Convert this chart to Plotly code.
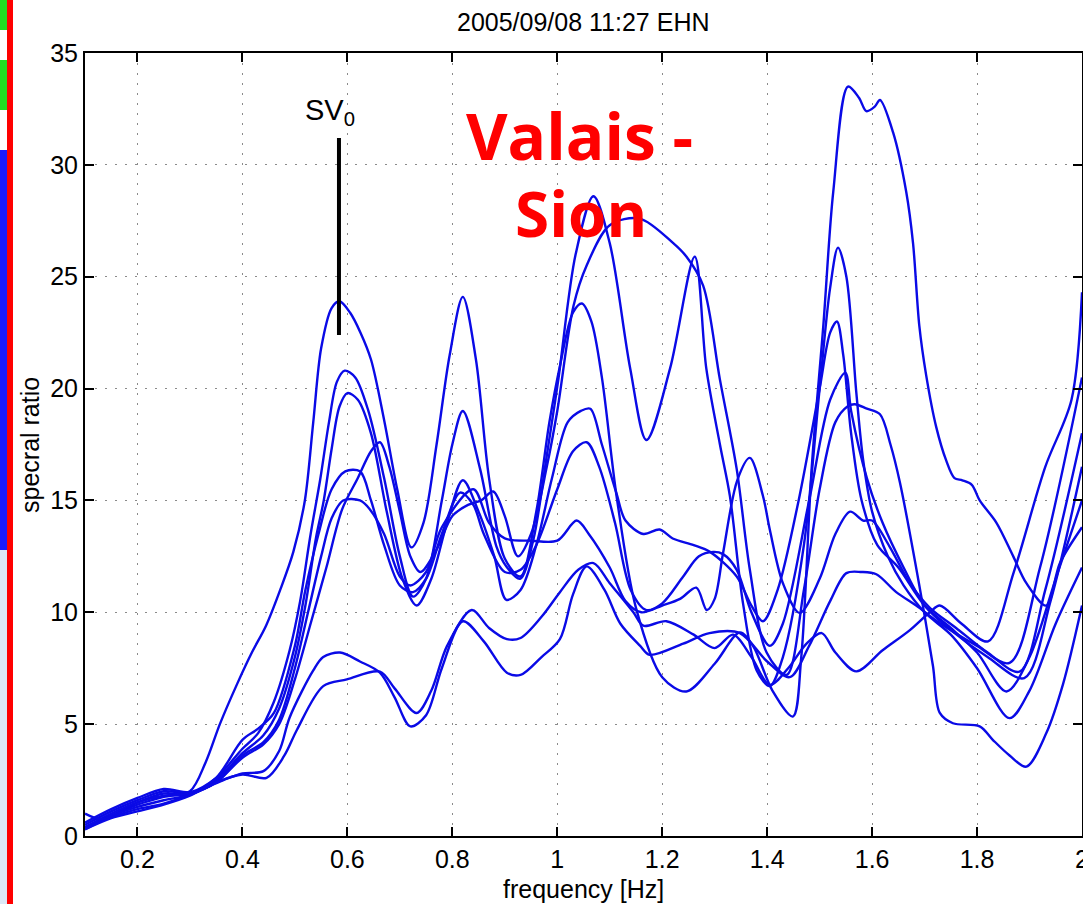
import plotly.graph_objects as go

# ---- spectral ratio curves: (frequency [Hz], spectral ratio) ----
curve_a = [(0.10, 0.4), (0.15, 0.9), (0.20, 1.4), (0.25, 1.75), (0.30, 2.0), (0.33, 3.3), (0.357, 5.0),
           (0.39, 6.8), (0.418, 8.2), (0.445, 9.4), (0.472, 11.0), (0.497, 12.7), (0.519, 15.0),
           (0.535, 18.5), (0.55, 21.8), (0.57, 23.6), (0.585, 23.9), (0.605, 23.4), (0.625, 22.5),
           (0.645, 21.3), (0.67, 18.6), (0.695, 15.5), (0.722, 12.9), (0.745, 14.0), (0.77, 17.5),
           (0.795, 21.5), (0.82, 24.1), (0.845, 21.3), (0.87, 16.0), (0.90, 12.4), (0.93, 11.6),
           (0.96, 14.5), (0.985, 18.5), (1.005, 21.0), (1.03, 23.4), (1.047, 23.8), (1.065, 23.0),
           (1.085, 20.5), (1.113, 15.2), (1.15, 10.2), (1.20, 7.1), (1.246, 6.46), (1.30, 7.7),
           (1.348, 9.1), (1.373, 8.5), (1.41, 6.5), (1.449, 5.34), (1.465, 8.0), (1.485, 16.5),
           (1.507, 22.8), (1.526, 28.8), (1.554, 33.5), (1.575, 33.0), (1.589, 32.4), (1.605, 32.6),
           (1.615, 32.9), (1.64, 31.45), (1.665, 28.8), (1.678, 26.5), (1.69, 22.8), (1.703, 20.6),
           (1.722, 18.3), (1.741, 16.8), (1.757, 16.0), (1.772, 15.9), (1.79, 15.7), (1.805, 15.0),
           (1.837, 14.0), (1.869, 12.5), (1.894, 11.3), (1.932, 10.3), (1.958, 12.2), (2.0, 13.8)]

curve_b = [(0.10, 0.5), (0.15, 1.1), (0.20, 1.6), (0.25, 2.0), (0.30, 1.95), (0.35, 2.6), (0.40, 3.9),
           (0.43, 4.6), (0.46, 6.0), (0.49, 8.3), (0.51, 10.5), (0.53, 13.5), (0.548, 15.9),
           (0.565, 18.5), (0.58, 20.3), (0.595, 20.8), (0.615, 20.5), (0.64, 19.0), (0.67, 16.0),
           (0.70, 12.5), (0.725, 10.7), (0.75, 11.5), (0.78, 15.0), (0.80, 17.5), (0.82, 19.0),
           (0.853, 16.4), (0.884, 12.95), (0.903, 12.05), (0.929, 11.5), (0.954, 13.2), (0.98, 17.0),
           (1.002, 20.4), (1.035, 26.0), (1.069, 28.6), (1.10, 26.5), (1.139, 20.9), (1.17, 17.7),
           (1.215, 20.9), (1.262, 25.9), (1.284, 20.9), (1.31, 17.5), (1.329, 15.2), (1.354, 10.4),
           (1.38, 7.4), (1.405, 6.7), (1.43, 8.0), (1.47, 13.0), (1.50, 20.0), (1.52, 24.5),
           (1.535, 26.3), (1.551, 25.0), (1.57, 19.8), (1.583, 16.8), (1.60, 14.5), (1.63, 12.5),
           (1.66, 11.2), (1.70, 10.0), (1.75, 9.0), (1.80, 7.5), (1.862, 5.27), (1.90, 6.5),
           (1.95, 9.5), (2.0, 12.0)]

curve_c = [(0.10, 0.3), (0.15, 0.9), (0.20, 1.5), (0.25, 1.9), (0.30, 1.9), (0.35, 2.5), (0.40, 3.7),
           (0.44, 4.5), (0.47, 5.7), (0.50, 8.0), (0.52, 10.3), (0.54, 13.3), (0.555, 15.0),
           (0.57, 17.3), (0.585, 19.2), (0.60, 19.8), (0.62, 19.5), (0.645, 18.0), (0.675, 14.5),
           (0.705, 11.5), (0.732, 10.3), (0.76, 11.5), (0.79, 14.0), (0.82, 15.9), (0.85, 14.5),
           (0.88, 12.5), (0.903, 10.56), (0.93, 11.0), (0.96, 13.0), (0.99, 16.0), (1.02, 18.5),
           (1.045, 19.0), (1.063, 19.1), (1.085, 17.5), (1.113, 15.3), (1.13, 14.1), (1.164, 13.5),
           (1.195, 13.7), (1.22, 13.3), (1.26, 13.0), (1.291, 12.7), (1.342, 11.6), (1.37, 10.3),
           (1.392, 9.6), (1.42, 11.0), (1.46, 15.0), (1.50, 20.0), (1.52, 22.5), (1.533, 23.0),
           (1.545, 21.5), (1.56, 18.0), (1.58, 15.0), (1.61, 13.0), (1.65, 12.0), (1.70, 10.3),
           (1.75, 9.3), (1.80, 8.2), (1.856, 6.46), (1.90, 8.0), (1.95, 11.5), (2.0, 15.0)]

curve_d = [(0.10, 0.4), (0.15, 1.0), (0.20, 1.5), (0.25, 1.8), (0.30, 1.9), (0.35, 2.6), (0.40, 4.3),
           (0.43, 4.8), (0.46, 5.5), (0.50, 8.5), (0.52, 11.0), (0.545, 13.5), (0.57, 15.5),
           (0.596, 16.3), (0.624, 16.3), (0.645, 15.0), (0.67, 13.0), (0.70, 11.2), (0.725, 10.9),
           (0.75, 11.5), (0.78, 13.5), (0.815, 15.35), (0.84, 14.8), (0.86, 13.5), (0.90, 11.8),
           (0.93, 11.9), (0.96, 13.0), (1.00, 15.5), (1.03, 17.2), (1.056, 17.6), (1.08, 16.5),
           (1.11, 14.0), (1.14, 11.0), (1.17, 10.1), (1.20, 10.4), (1.24, 11.6), (1.27, 12.5),
           (1.297, 12.7), (1.316, 12.6), (1.342, 11.9), (1.37, 10.0), (1.405, 8.5), (1.43, 9.5),
           (1.48, 15.0), (1.52, 19.5), (1.549, 20.7), (1.56, 19.0), (1.59, 16.0), (1.62, 14.0),
           (1.66, 12.0), (1.70, 10.3), (1.75, 9.2), (1.82, 8.0), (1.89, 7.06), (1.94, 10.5),
           (2.0, 16.5)]

curve_e = [(0.10, 0.6), (0.15, 1.2), (0.20, 1.7), (0.25, 2.1), (0.30, 1.95), (0.35, 2.4), (0.40, 3.6),
           (0.44, 4.2), (0.47, 5.2), (0.50, 7.5), (0.525, 10.0), (0.55, 12.5), (0.57, 14.2),
           (0.592, 15.0), (0.624, 15.0), (0.643, 14.6), (0.67, 13.5), (0.70, 11.6), (0.72, 11.2),
           (0.75, 11.8), (0.78, 13.8), (0.84, 15.5), (0.87, 14.0), (0.90, 13.3), (0.95, 13.2),
           (1.00, 13.2), (1.037, 14.1), (1.06, 13.5), (1.10, 12.0), (1.13, 10.5), (1.16, 10.0),
           (1.20, 10.3), (1.234, 10.6), (1.265, 11.1), (1.285, 10.1), (1.30, 10.6), (1.316, 12.65),
           (1.343, 15.9), (1.367, 16.9), (1.392, 15.2), (1.405, 13.7), (1.43, 11.3), (1.462, 9.97),
           (1.50, 11.5), (1.53, 13.5), (1.558, 14.5), (1.583, 14.1), (1.60, 14.1), (1.633, 12.95),
           (1.672, 11.3), (1.71, 10.2), (1.76, 9.3), (1.82, 8.2), (1.881, 7.35), (1.93, 11.0),
           (2.0, 18.0)]

curve_f = [(0.10, 0.35), (0.15, 0.9), (0.20, 1.3), (0.25, 1.6), (0.30, 1.85), (0.35, 2.4), (0.40, 3.5),
           (0.44, 4.1), (0.47, 5.0), (0.50, 7.0), (0.53, 9.5), (0.56, 12.0), (0.59, 14.6),
           (0.62, 16.0), (0.645, 17.2), (0.662, 17.6), (0.68, 16.5), (0.70, 14.5), (0.72, 12.5),
           (0.739, 11.8), (0.77, 12.8), (0.80, 14.3), (0.83, 14.8), (0.855, 15.0), (0.878, 15.4),
           (0.90, 14.3), (0.925, 12.5), (0.95, 13.5), (0.98, 16.5), (1.00, 19.0), (1.031, 23.7),
           (1.056, 25.5), (1.10, 27.3), (1.157, 27.6), (1.221, 26.5), (1.246, 25.9), (1.278, 24.6),
           (1.31, 20.4), (1.342, 16.4), (1.367, 11.9), (1.399, 8.2), (1.437, 7.2), (1.47, 11.0),
           (1.50, 15.5), (1.53, 18.5), (1.553, 19.2), (1.567, 19.3), (1.59, 19.1), (1.615, 18.85),
           (1.635, 17.5), (1.653, 15.8), (1.69, 11.2), (1.716, 7.6), (1.729, 5.5), (1.754, 5.04),
           (1.805, 4.9), (1.83, 4.3), (1.862, 3.6), (1.894, 3.1), (1.932, 4.6), (1.964, 6.8),
           (2.0, 10.3)]

curve_g = [(0.10, 1.0), (0.13, 0.75), (0.17, 1.0), (0.20, 1.2), (0.25, 1.45), (0.30, 1.85), (0.364, 2.5),
           (0.40, 2.8), (0.44, 2.9), (0.47, 3.8), (0.49, 5.3), (0.535, 7.4), (0.554, 8.0),
           (0.586, 8.2), (0.624, 7.8), (0.662, 7.3), (0.69, 6.2), (0.72, 4.9), (0.75, 5.4),
           (0.78, 7.5), (0.82, 9.6), (0.86, 8.7), (0.904, 7.3), (0.93, 7.2), (0.97, 8.0),
           (1.005, 8.8), (1.03, 10.8), (1.056, 12.05), (1.09, 11.0), (1.12, 9.5), (1.158, 8.5),
           (1.176, 8.1), (1.24, 8.6), (1.29, 9.07), (1.348, 9.07), (1.40, 7.8), (1.443, 7.1),
           (1.48, 8.5), (1.52, 10.5), (1.551, 11.75), (1.58, 11.8), (1.608, 11.7), (1.646, 10.9),
           (1.684, 10.3), (1.73, 9.5), (1.80, 8.5), (1.862, 7.74), (1.92, 12.0), (2.0, 20.5)]

curve_h = [(0.10, 0.3), (0.15, 0.8), (0.20, 1.1), (0.25, 1.4), (0.30, 1.8), (0.35, 2.4), (0.40, 2.75),
           (0.446, 2.6), (0.48, 3.6), (0.504, 4.75), (0.554, 6.7), (0.599, 7.0), (0.662, 7.35),
           (0.69, 6.6), (0.732, 5.5), (0.76, 6.5), (0.79, 8.5), (0.837, 10.1), (0.87, 9.3),
           (0.904, 8.8), (0.93, 8.85), (0.97, 9.8), (1.005, 10.9), (1.04, 11.9), (1.069, 12.2),
           (1.10, 11.3), (1.145, 10.0), (1.164, 9.4), (1.208, 9.6), (1.26, 9.0), (1.30, 8.4),
           (1.335, 9.0), (1.37, 8.0), (1.405, 6.75), (1.44, 7.5), (1.475, 8.6), (1.504, 9.07),
           (1.53, 8.2), (1.57, 7.36), (1.62, 8.3), (1.672, 9.2), (1.71, 10.0), (1.729, 10.3),
           (1.77, 9.5), (1.821, 8.7), (1.87, 11.8), (1.93, 16.5), (1.98, 19.5), (2.0, 24.3)]

curves = [curve_a, curve_b, curve_c, curve_d, curve_e, curve_f, curve_g, curve_h]

# fundamental-mode marker
sv0_freq = 0.584
sv0_span = (22.4, 31.2)

x_ticks = [0.2, 0.4, 0.6, 0.8, 1.0, 1.2, 1.4, 1.6, 1.8, 2.0]
x_tick_text = ["0.2", "0.4", "0.6", "0.8", "1", "1.2", "1.4", "1.6", "1.8", "2"]
y_ticks = [0, 5, 10, 15, 20, 25, 30, 35]

# ---- page geometry (pixels) ----
W, H = 1083, 904
L, R, T, B = 85, 1, 53, 68
PW, PH = W - L - R, H - T - B


def px(x):
    return (x - L) / PW


def py(y):
    return (H - B - y) / PH


FONT = "Liberation Sans, Arial, Helvetica, sans-serif"
BLUE = "#0a0ae6"

fig = go.Figure()
for c in curves:
    fig.add_trace(go.Scatter(
        x=[p[0] for p in c], y=[p[1] for p in c], mode="lines",
        line=dict(color=BLUE, width=2.4, shape="spline", smoothing=0.9),
        hoverinfo="skip", showlegend=False))

# SV0 marker line
fig.add_shape(type="line", xref="x", yref="y", x0=sv0_freq, x1=sv0_freq,
              y0=sv0_span[0], y1=sv0_span[1], line=dict(color="black", width=4))

axis_common = dict(
    showline=True, linecolor="black", linewidth=2, mirror="ticks",
    ticks="inside", ticklen=9, tickwidth=2, tickcolor="black",
    showgrid=True, gridcolor="#8a8a8a", gridwidth=1.3, griddash="2px,8px",
    zeroline=False, tickfont=dict(family=FONT, size=25, color="black"),
    ticklabeloverflow="allow", automargin=False,
)

fig.update_layout(
    width=W, height=H, margin=dict(l=L, r=R, t=T, b=B, pad=0, autoexpand=False),
    paper_bgcolor="white", plot_bgcolor="white",
    xaxis=dict(range=[0.1, 2.0], tickvals=x_ticks, ticktext=x_tick_text, **axis_common),
    yaxis=dict(range=[0, 35], tickvals=y_ticks, **axis_common),
    showlegend=False,
)

annotations = [
    dict(text="2005/09/08 11:27 EHN", x=0.5, y=py(22), xref="paper", yref="paper",
         showarrow=False, font=dict(family=FONT, size=25, color="black"), yanchor="middle"),
    dict(text="frequency [Hz]", x=0.5, y=py(889), xref="paper", yref="paper",
         showarrow=False, font=dict(family=FONT, size=25, color="black"), yanchor="middle"),
    dict(text="specral ratio", x=px(30), y=py(445), xref="paper", yref="paper", textangle=-90,
         showarrow=False, font=dict(family=FONT, size=25, color="black"),
         xanchor="center", yanchor="middle"),
    dict(text="SV<sub>0</sub>", x=px(303), y=py(112), xref="paper", yref="paper",
         showarrow=False, font=dict(family=FONT, size=29, color="black"),
         xanchor="left", yanchor="middle"),
    dict(text="<b>Valais -</b>", x=px(579), y=py(136), xref="paper", yref="paper",
         showarrow=False, font=dict(family="Open Sans, sans-serif", size=64, color="#ff0000"),
         xanchor="center", yanchor="middle"),
    dict(text="<b>Sion</b>", x=px(581), y=py(213), xref="paper", yref="paper",
         showarrow=False, font=dict(family="Open Sans, sans-serif", size=62, color="#ff0000"),
         xanchor="center", yanchor="middle"),
]
fig.update_layout(annotations=annotations)

# slide border fragments along the left edge
left_blocks = [
    (0, 0, 7, 30, "#22dd22"),
    (0, 60, 7, 110, "#22dd22"),
    (0, 150, 7, 550, "#1a1aff"),
    (0, 550, 7, 904, "#dce8f6"),
    (7, 0, 13, 904, "#ff0000"),
]
for x0, y0, x1, y1, col in left_blocks:
    fig.add_shape(type="rect", xref="paper", yref="paper", x0=px(x0), x1=px(x1),
                  y0=py(y1), y1=py(y0), fillcolor=col, line=dict(width=0), layer="above")

fig.write_html("out.html")
